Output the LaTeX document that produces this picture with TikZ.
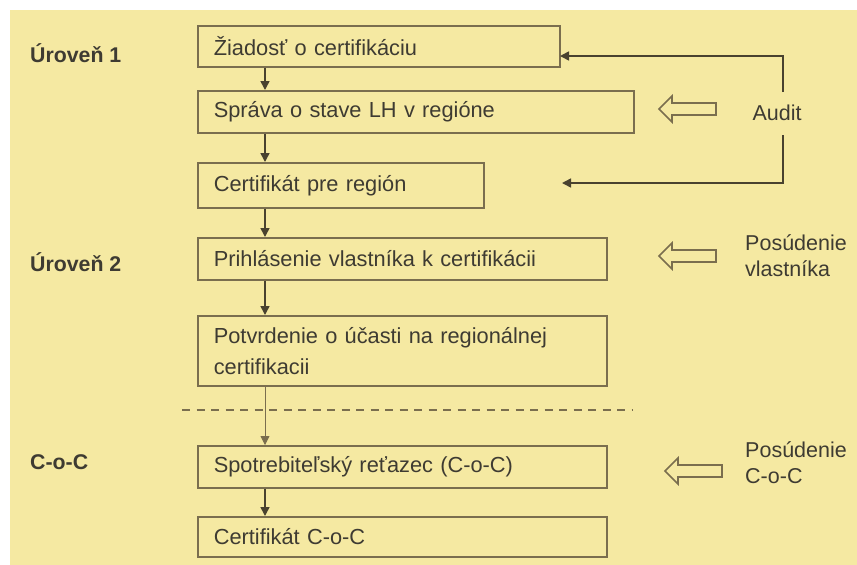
\documentclass[tikz,border=0pt]{standalone}
\usepackage{fontspec}
\setmainfont{Liberation Sans}
\usetikzlibrary{arrows.meta,calc}
\definecolor{bg}{HTML}{F5E9A2}
\definecolor{ln}{HTML}{7A6E4E}
\definecolor{tx}{HTML}{3E3B32}
\begin{document}
\begin{tikzpicture}[x=1pt,y=-1pt,
  stepbox/.style={draw=ln,line width=1.6pt,anchor=north west,inner xsep=16pt,inner ysep=2pt,
    align=left,text=tx,font=\fontsize{21.8}{31}\selectfont},
  lvl/.style={anchor=west,text=tx,font=\bfseries\fontsize{21.3}{24}\selectfont,inner sep=0pt},
  side/.style={anchor=west,text=tx,align=left,font=\fontsize{21.5}{26}\selectfont,inner sep=0pt},
  arr/.style={draw=ln!60!black,line width=1.6pt,-{Triangle[length=9pt,width=9pt]}},
  thinarr/.style={draw=ln,line width=0.8pt,-{Triangle[length=9pt,width=9pt]}},
  hollow/.style={draw=ln,line width=1.6pt,line join=miter}]
\useasboundingbox (0,0) rectangle (857,565);
\fill[white] (0,0) rectangle (857,565);
\fill[bg] (10,10) rectangle (857,565);

% boxes
\node[stepbox,text width=330pt,minimum height=41pt] (b1) at (197,25) {Žiadosť o certifikáciu};
\node[stepbox,text width=404pt,minimum height=42pt] (b2) at (197,90) {Správa o stave LH v regióne};
\node[stepbox,text width=254pt,minimum height=45pt] (b3) at (197,162) {Certifikát pre región};
\node[stepbox,text width=377pt,minimum height=42pt] (b4) at (197,237) {Prihlásenie vlastníka k certifikácii};
\node[stepbox,text width=377pt,minimum height=70pt] (b5) at (197,315) {Potvrdenie o účasti na regionálnej\\certifikacii};
\node[stepbox,text width=377pt,minimum height=42pt] (b6) at (197,445) {Spotrebiteľský reťazec (C-o-C)};
\node[stepbox,text width=377pt,minimum height=40pt] (b7) at (197,516) {Certifikát C-o-C};

% level labels
\node[lvl] (l1) at (30,53) {Úroveň 1};
\node[lvl] (l2) at (30,262) {Úroveň 2};
\node[lvl] (l3) at (30,462) {C-o-C};

% side labels
\node[side,anchor=center] (audit) at (777,113) {Audit};
\node[side,anchor=north west] (pv) at (745,234) {Posúdenie\\vlastníka};
\node[side,anchor=north west] (pc) at (745,441) {Posúdenie\\C-o-C};

% vertical arrows
\draw[arr] ($(b1.south west)+(68,0)$) -- ($(b2.north west)+(68,0)$);
\draw[arr] ($(b2.south west)+(68,0)$) -- ($(b3.north west)+(68,0)$);
\draw[arr] ($(b3.south west)+(68,0)$) -- ($(b4.north west)+(68,0)$);
\draw[arr] ($(b4.south west)+(68,0)$) -- ($(b5.north west)+(68,0)$);
\draw[thinarr] ($(b5.south west)+(68,0)$) -- ($(b6.north west)+(68,0)$);
\draw[arr] ($(b6.south west)+(68,0)$) -- ($(b7.north west)+(68,0)$);

% dashed separator
\draw[ln,line width=1.2pt,dash pattern=on 8pt off 6.5pt] (182,410) coordinate (d1) -- (633,410) coordinate (d2);

% audit feedback
\coordinate (a1) at (560,56);
\coordinate (a2) at (562,183);
\draw[arr] (783,92) coordinate (as) |- (a1);
\draw[arr] (783,135) coordinate (ae) |- (a2);

% hollow arrows
\draw[hollow] (659,109) -- (672,96) -- (672,103) -- (716,103) -- (716,115) -- (672,115) -- (672,122) -- cycle;
\draw[hollow] (659,256) -- (672,243) -- (672,250) -- (716,250) -- (716,262) -- (672,262) -- (672,269) -- cycle;
\draw[hollow] (665,471) -- (678,458) -- (678,465) -- (722,465) -- (722,477) -- (678,477) -- (678,484) -- cycle;
\end{tikzpicture}
\end{document}
